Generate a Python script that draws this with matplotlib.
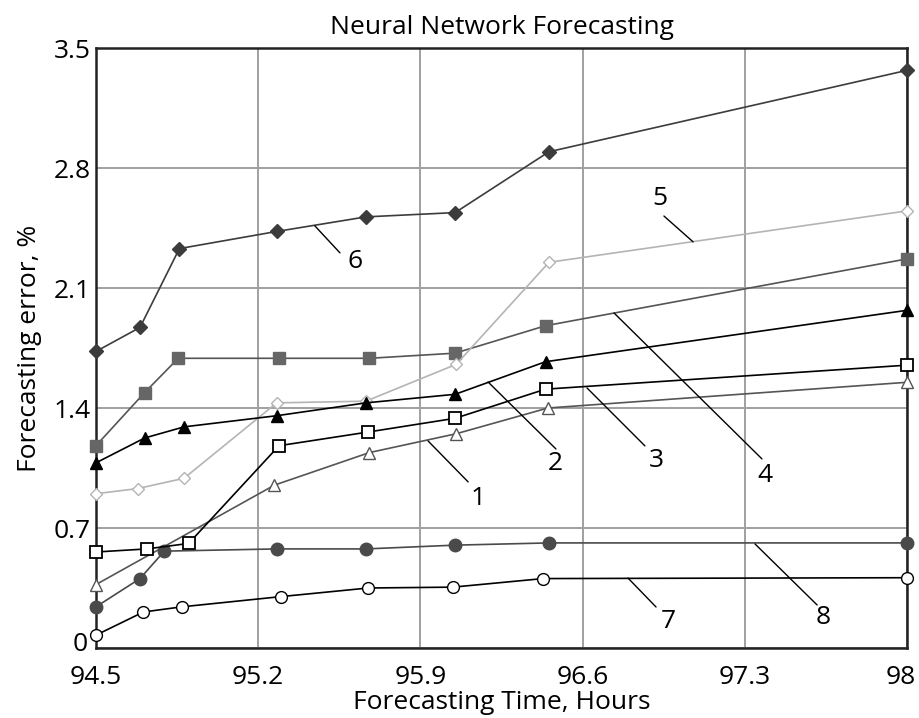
import matplotlib
matplotlib.use('Agg')
import matplotlib.pyplot as plt
import matplotlib.transforms as mtransforms

plt.rcParams['font.family'] = ['Open Sans', 'DejaVu Sans']

# series values (x = forecasting time, y = error %)
x1 = [94.5, 95.27, 95.68, 96.055, 96.45, 98.0]
y1 = [0.37, 0.95, 1.14, 1.25, 1.40, 1.55]

x2 = [94.5, 94.71, 94.88, 95.28, 95.665, 96.05, 96.44, 98.0]
y2 = [1.08, 1.225, 1.29, 1.355, 1.43, 1.48, 1.67, 1.97]

x3 = [94.5, 94.72, 94.9, 95.29, 95.675, 96.05, 96.44, 98.0]
y3 = [0.56, 0.578, 0.61, 1.18, 1.26, 1.34, 1.51, 1.65]

x4 = [94.5, 94.71, 94.855, 95.29, 95.68, 96.05, 96.44, 98.0]
y4 = [1.18, 1.49, 1.69, 1.69, 1.69, 1.72, 1.88, 2.27]

x5 = [94.5, 94.68, 94.88, 95.28, 95.665, 96.055, 96.455, 98.0]
y5 = [0.90, 0.93, 0.99, 1.43, 1.44, 1.655, 2.25, 2.55]

x6 = [94.5, 94.69, 94.86, 95.28, 95.665, 96.05, 96.455, 98.0]
y6 = [1.73, 1.87, 2.33, 2.43, 2.515, 2.54, 2.895, 3.37]

x7 = [94.5, 94.705, 94.87, 95.3, 95.675, 96.04, 96.43, 98.0]
y7 = [0.075, 0.21, 0.24, 0.30, 0.35, 0.355, 0.405, 0.41]

x8 = [94.5, 94.69, 94.795, 95.28, 95.665, 96.05, 96.455, 98.0]
y8 = [0.24, 0.405, 0.565, 0.578, 0.578, 0.60, 0.613, 0.613]

x_ticks = [94.5, 95.2, 95.9, 96.6, 97.3, 98]
x_tick_labels = ['94.5', '95.2', '95.9', '96.6', '97.3', '98']
y_ticks = [0, 0.7, 1.4, 2.1, 2.8, 3.5]
y_tick_labels = ['0', '0.7', '1.4', '2.1', '2.8', '3.5']

# curve labels: (text, line start, line end, label position)
callouts = [
    ('1', (95.933, 1.208), (96.106, 0.969), (96.149, 0.875)),
    ('2', (96.192, 1.552), (96.485, 1.161), (96.481, 1.074)),
    ('3', (96.619, 1.517), (96.869, 1.179), (96.917, 1.091)),
    ('4', (96.736, 1.954), (97.374, 1.103), (97.387, 1.009)),
    ('5', (96.951, 2.520), (97.077, 2.369), (96.934, 2.620)),
    ('6', (95.445, 2.462), (95.553, 2.305), (95.618, 2.252)),
    ('7', (96.796, 0.408), (96.917, 0.239), (96.969, 0.152)),
    ('8', (97.344, 0.607), (97.612, 0.251), (97.638, 0.175)),
]

fig = plt.figure(figsize=(9.2, 7.18), dpi=100)
ax = fig.add_axes([0.1043, 0.0975, 0.8816, 0.8356])

ax.plot(x6, y6, color='#3c3c3c', lw=1.2, marker='D', ms=7,
        mfc='#3c3c3c', mec='#3c3c3c', clip_on=False, zorder=3)
ax.plot(x4, y4, color='#555555', lw=1.2, marker='s', ms=9,
        mfc='#666666', mec='#666666', clip_on=False, zorder=3)
ax.plot(x5, y5, color='#b4b4b4', lw=1.2, marker='D', ms=6.5,
        mfc='white', mec='#b4b4b4', clip_on=False, zorder=3)
ax.plot(x2, y2, color='black', lw=1.2, marker='^', ms=9,
        mfc='black', mec='black', clip_on=False, zorder=3)
ax.plot(x1, y1, color='#555555', lw=1.2, marker='^', ms=8.5,
        mfc='white', mec='#555555', clip_on=False, zorder=3)
ax.plot(x3, y3, color='black', lw=1.2, marker='s', ms=8.5,
        mfc='white', mec='black', mew=1.3, clip_on=False, zorder=4)
ax.plot(x8, y8, color='#4a4a4a', lw=1.2, marker='o', ms=9,
        mfc='#4a4a4a', mec='#4a4a4a', clip_on=False, zorder=3)
ax.plot(x7, y7, color='black', lw=1.2, marker='o', ms=8.5,
        mfc='white', mec='black', clip_on=False, zorder=3)

for text, start, end, pos in callouts:
    ax.annotate('', xy=start, xytext=end,
                arrowprops=dict(arrowstyle='-', color='black', lw=1.0,
                                shrinkA=0, shrinkB=0))
    ax.text(pos[0], pos[1], text, fontsize=19, ha='center', va='center')

ax.set_xlim(94.5, 98)
ax.set_ylim(0, 3.5)
ax.set_xticks(x_ticks)
ax.set_xticklabels(x_tick_labels)
ax.set_yticks(y_ticks)
ax.set_yticklabels(y_tick_labels)
ax.tick_params(length=0, labelsize=19)
ax.tick_params(axis='x', pad=12)
ax.tick_params(axis='y', pad=4)
ax.grid(True, color='#a0a0a0', lw=1.4)
ax.set_axisbelow(True)
for s in ax.spines.values():
    s.set_linewidth(1.8)
    s.set_color('#222222')

# nudge the corner labels like the reference: "0" sits a bit above the axis,
# "98" a bit left of its tick
ylab0 = ax.get_yticklabels()[0]
ylab0.set_transform(ylab0.get_transform() +
                    mtransforms.ScaledTranslation(-3 / 100, 6 / 100, fig.dpi_scale_trans))
xlab_last = ax.get_xticklabels()[-1]
xlab_last.set_transform(xlab_last.get_transform() +
                        mtransforms.ScaledTranslation(-6 / 100, 0, fig.dpi_scale_trans))

ax.set_title('Neural Network Forecasting', fontsize=19, pad=10)
ax.set_xlabel('Forecasting Time, Hours', fontsize=19, labelpad=0)
ax.set_ylabel('Forecasting error, %', fontsize=19, labelpad=8)

fig.savefig('out.png', dpi=100)
